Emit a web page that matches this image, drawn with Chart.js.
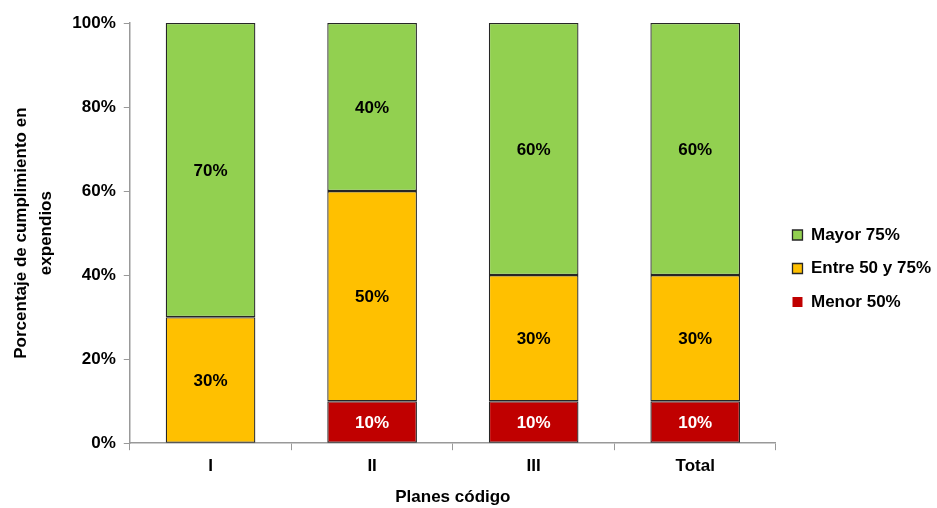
<!DOCTYPE html>
<html>
<head>
<meta charset="utf-8">
<script src="https://cdn.jsdelivr.net/npm/chart.js@4/dist/chart.umd.min.js"></script>
<style>
  html, body { margin: 0; padding: 0; background: #fff; }
  #wrap { width: 937px; height: 508px; }
</style>
</head>
<body>
<div id="wrap"><canvas id="cumplimiento_chart"></canvas></div>
<script>
const planes = ["I", "II", "III", "Total"];
const menor50 = [0, 10, 10, 10];
const entre50y75 = [30, 50, 30, 30];
const mayor75 = [70, 40, 60, 60];
const ticks_y = [0, 20, 40, 60, 80, 100];

const fuente = "'Liberation Sans', Arial, sans-serif";

// etiquetas de porcentaje en el centro de cada segmento
const etiquetas = {
    id: "etiquetas",
    afterDatasetsDraw(chart) {
        const ctx = chart.ctx;
        ctx.save();
        ctx.font = "bold 17px " + fuente;
        ctx.textAlign = "center";
        ctx.textBaseline = "middle";
        chart.data.datasets.forEach((ds, i) => {
            const meta = chart.getDatasetMeta(i);
            meta.data.forEach((bar, j) => {
                const v = ds.data[j];
                if (!v) return;
                ctx.fillStyle = ds.labelColor;
                ctx.fillText(v + "%", bar.x, (bar.y + bar.base) / 2 + 1);
            });
        });
        ctx.restore();
    }
};

const ctx_cumplimiento = document.getElementById("cumplimiento_chart");

new Chart(ctx_cumplimiento, {
    type: "bar",
    data: {
        labels: planes,
        datasets: [
            {
                label: "Menor 50%",
                data: menor50,
                backgroundColor: "#C00000",
                labelColor: "#ffffff"
            },
            {
                label: "Entre 50 y 75%",
                data: entre50y75,
                backgroundColor: "#FFC000",
                labelColor: "#000000"
            },
            {
                label: "Mayor 75%",
                data: mayor75,
                backgroundColor: "#92D050",
                labelColor: "#000000"
            }
        ]
    },
    options: {
        responsive: true,
        maintainAspectRatio: false,
        animation: false,
        datasets: {
            bar: {
                borderColor: "#262626",
                borderWidth: (c) => (c.raw ? 1.3 : 0),
                borderSkipped: false,
                categoryPercentage: 1,
                barPercentage: 0.555
            }
        },
        layout: {
            padding: { left: 9, top: 23, right: -4, bottom: 0 }
        },
        plugins: {
            legend: {
                position: "right",
                reverse: true,
                title: {
                    display: true,
                    text: " ",
                    padding: 0,
                    font: { size: 6, lineHeight: "6px" }
                },
                labels: {
                    color: "#000",
                    font: { family: fuente, size: 17, weight: "bold" },
                    boxWidth: 10,
                    boxHeight: 10,
                    padding: 16.5
                }
            },
            tooltip: { enabled: false }
        },
        scales: {
            x: {
                stacked: true,
                grid: {
                    drawOnChartArea: false,
                    offset: true,
                    color: "#999",
                    tickLength: 7
                },
                border: { color: "#999", width: 1.5 },
                ticks: {
                    color: "#000",
                    padding: 6,
                    font: { family: fuente, size: 17, weight: "bold" }
                },
                title: {
                    display: true,
                    text: "Planes código",
                    color: "#000",
                    padding: { top: 5, bottom: 0 },
                    font: { family: fuente, size: 17, weight: "bold" }
                }
            },
            y: {
                stacked: true,
                min: 0,
                max: 100,
                afterBuildTicks: (axis) => {
                    axis.ticks = ticks_y.map(v => ({ value: v }));
                },
                grid: {
                    drawOnChartArea: false,
                    color: "#999",
                    tickLength: 6
                },
                border: { color: "#999", width: 1.5 },
                ticks: {
                    color: "#000",
                    padding: 8,
                    font: { family: fuente, size: 17, weight: "bold" },
                    callback: (v) => v + "%"
                },
                title: {
                    display: true,
                    text: ["Porcentaje de cumplimiento en", "expendios"],
                    color: "#000",
                    padding: { top: 0, bottom: 6 },
                    font: { family: fuente, size: 17, weight: "bold", lineHeight: 1.45 }
                }
            }
        }
    },
    plugins: [etiquetas]
});
</script>
</body>
</html>
